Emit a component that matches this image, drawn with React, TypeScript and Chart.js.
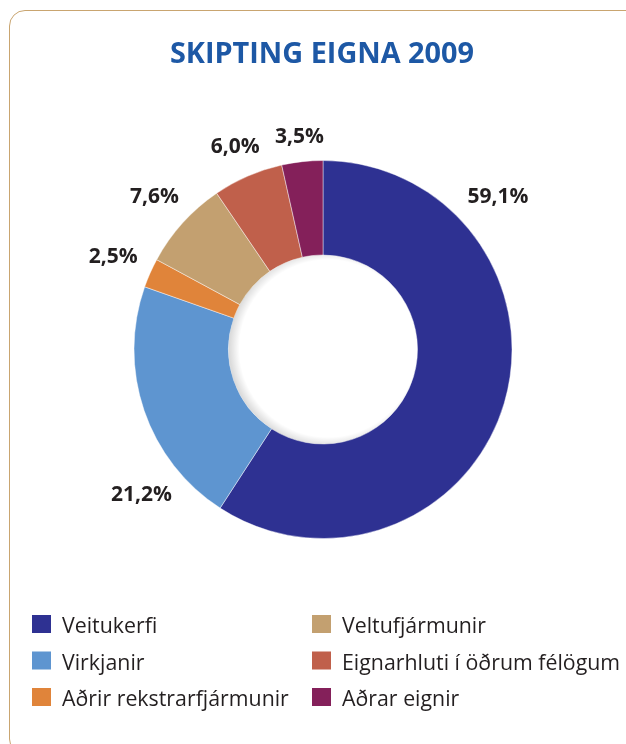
import React, { useEffect, useRef } from "react";
import { Chart, registerables } from "chart.js";

Chart.register(...registerables);

const TITLE = "SKIPTING EIGNA 2009";
const CATEGORIES = [
  "Veitukerfi",
  "Virkjanir",
  "Aðrir rekstrarfjármunir",
  "Veltufjármunir",
  "Eignarhluti í öðrum félögum",
  "Aðrar eignir",
];
const VALUES = [59.1, 21.2, 2.5, 7.6, 6.0, 3.5];
const COLORS = ["#2e3192", "#5e95d0", "#e0843a", "#c3a070", "#c0604b", "#84205a"];
// where along each slice its percentage label sits (0 = slice start, 1 = slice end)
const LABEL_ANCHOR = [0.23, 0.24, 0.5, 0.5, 0.5, 0.5];

const FONT = "'Open Sans', 'Noto Sans', sans-serif";
const TEXT_COLOR = "#231f20";
const TITLE_COLOR = "#1d58a5";

const W = 626;
const H = 744;

function drawText(ctx: CanvasRenderingContext2D, text: string, x: number, y: number, sx: number, align: "left" | "center") {
  ctx.save();
  ctx.translate(x, y);
  ctx.scale(sx, 1);
  ctx.textAlign = align;
  ctx.fillText(text, 0, 0);
  ctx.restore();
}

const titlePlugin = {
  id: "customTitle",
  afterDraw(chart: any) {
    const { ctx, chartArea } = chart;
    ctx.save();
    ctx.font = `bold 28px ${FONT}`;
    ctx.fillStyle = TITLE_COLOR;
    ctx.textBaseline = "alphabetic";
    drawText(ctx, TITLE, (chartArea.left + chartArea.right) / 2 - 1, 63, 1.03, "center");
    ctx.restore();
  },
};

const labelPlugin = {
  id: "sliceLabels",
  afterDatasetsDraw(chart: any) {
    const { ctx } = chart;
    const meta = chart.getDatasetMeta(0);
    ctx.save();
    ctx.font = `bold 21px ${FONT}`;
    ctx.fillStyle = TEXT_COLOR;
    ctx.textBaseline = "middle";
    meta.data.forEach((arc: any, i: number) => {
      const { x, y, startAngle, endAngle, outerRadius } = arc.getProps(
        ["x", "y", "startAngle", "endAngle", "outerRadius"],
        true
      );
      const a = startAngle + LABEL_ANCHOR[i] * (endAngle - startAngle);
      const dx = Math.cos(a);
      const dy = Math.sin(a);
      const text = VALUES[i].toFixed(1).replace(".", ",") + "%";
      const w = ctx.measureText(text).width;
      const h = 15;
      const ext = Math.abs(dx) * (w / 2) + Math.abs(dy) * (h / 2);
      const d = outerRadius + 15 + ext;
      drawText(ctx, text, x + dx * d, y + dy * d, 1, "center");
    });
    ctx.restore();
  },
};

const holeShadowPlugin = {
  id: "holeShadow",
  afterDatasetsDraw(chart: any) {
    const { ctx } = chart;
    const arc = chart.getDatasetMeta(0).data[0];
    if (!arc) return;
    const { x, y, innerRadius } = arc.getProps(["x", "y", "innerRadius"], true);
    ctx.save();
    ctx.beginPath();
    ctx.arc(x, y, innerRadius, 0, Math.PI * 2);
    ctx.clip();
    const g = ctx.createRadialGradient(x + 5, y - 1, innerRadius - 6, x + 5, y - 1, innerRadius + 4);
    g.addColorStop(0, "rgba(0,0,0,0)");
    g.addColorStop(1, "rgba(0,0,0,0.14)");
    ctx.fillStyle = g;
    ctx.fillRect(x - innerRadius, y - innerRadius, innerRadius * 2, innerRadius * 2);
    ctx.restore();
  },
};

const legendPlugin = {
  id: "gridLegend",
  afterDraw(chart: any) {
    const { ctx } = chart;
    const colX = [32, 312];
    const firstBaseline = 633;
    const rowStep = 36.5;
    const box = 18;
    ctx.save();
    ctx.font = `22px ${FONT}`;
    ctx.textBaseline = "alphabetic";
    CATEGORIES.forEach((label, i) => {
      const col = Math.floor(i / 3);
      const row = i % 3;
      const bx = colX[col];
      const base = firstBaseline + row * rowStep;
      ctx.fillStyle = COLORS[i];
      ctx.fillRect(bx, base - box, box + 1, box);
      ctx.fillStyle = TEXT_COLOR;
      drawText(ctx, label, bx + 30, base, 0.97, "left");
    });
    ctx.restore();
  },
};

export default function App() {
  const ref = useRef<HTMLCanvasElement>(null);
  useEffect(() => {
    if (!ref.current) return;
    const chart = new Chart(ref.current, {
      type: "doughnut",
      data: {
        labels: CATEGORIES,
        datasets: [
          {
            data: VALUES,
            backgroundColor: COLORS,
            borderColor: "rgba(255,255,255,0.55)",
            borderWidth: 0.8,
            hoverOffset: 0,
          },
        ],
      },
      options: {
        responsive: false,
        animation: false,
        radius: 189,
        cutout: "50%",
        layout: { padding: { left: 20, right: 0, top: 100, bottom: 145 } },
        plugins: {
          legend: { display: false },
          title: { display: false },
          tooltip: { enabled: false },
        },
        events: [],
      },
      plugins: [holeShadowPlugin, labelPlugin, titlePlugin, legendPlugin],
    } as any);
    return () => chart.destroy();
  }, []);

  return (
    <div style={{ position: "fixed", left: 0, top: 0, width: W, height: H, overflow: "hidden", background: "#fff" }}>
      <div
        style={{
          position: "absolute",
          left: 9,
          top: 10,
          width: 640,
          height: 745,
          border: "1.5px solid #c9a570",
          borderRadius: 16,
          boxSizing: "border-box",
        }}
      />
      <canvas ref={ref} width={W} height={H} style={{ position: "absolute", left: 0, top: 0 }} />
    </div>
  );
}
